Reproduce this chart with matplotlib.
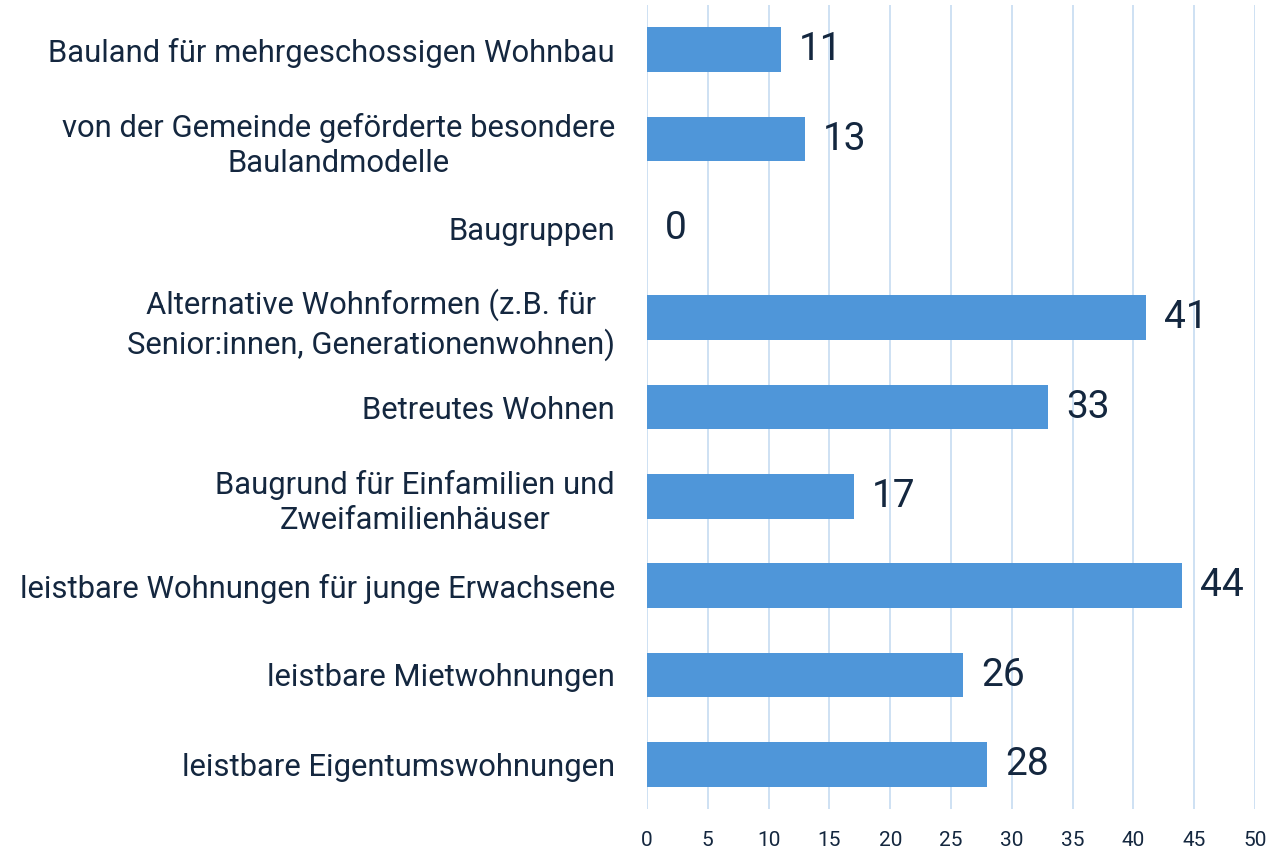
import matplotlib
matplotlib.use("Agg")
import matplotlib.pyplot as plt

categories = [
    "Bauland für mehrgeschossigen Wohnbau",
    "von der Gemeinde geförderte besondere\nBaulandmodelle",
    "Baugruppen",
    "Alternative Wohnformen (z.B. für\nSenior:innen, Generationenwohnen)",
    "Betreutes Wohnen",
    "Baugrund für Einfamilien und\nZweifamilienhäuser",
    "leistbare Wohnungen für junge Erwachsene",
    "leistbare Mietwohnungen",
    "leistbare Eigentumswohnungen",
]
values = [11, 13, 0, 41, 33, 17, 44, 26, 28]
xticks = [0, 5, 10, 15, 20, 25, 30, 35, 40, 45, 50]

text_color = "#14273F"
bar_color = "#4F96D9"
grid_color = "#C6DCF1"

plt.rcParams['font.family'] = ['Roboto', 'DejaVu Sans']

fig = plt.figure(figsize=(12.86, 8.51), dpi=100)
ax = fig.add_axes([647/1286, 42/851, 608/1286, 804/851])

ypos = list(range(len(categories)))
ax.barh(ypos, values, height=0.5, color=bar_color, zorder=2)
ax.set_ylim(len(categories) - 0.5, -0.5)
ax.set_xlim(0, 50)
ax.set_xticks(xticks)
ax.set_xticklabels([str(t) for t in xticks], fontsize=15, color=text_color)
ax.set_yticks(ypos)
ax.set_yticklabels(categories, fontsize=22.3, color=text_color,
                   linespacing=1.27)
for lbl in ax.get_yticklabels():
    lbl.set_horizontalalignment('right')
    lbl.set_multialignment('center')
ax.tick_params(axis='y', length=0, pad=23)
ax.tick_params(axis='x', length=0, pad=16)

ax.grid(axis='x', color=grid_color, linewidth=1.2, zorder=0)
for s in ax.spines.values():
    s.set_visible(False)

for y, v in zip(ypos, values):
    ax.annotate(str(v), xy=(v, y), xytext=(13, 0), textcoords='offset points',
                ha='left', va='center', fontsize=28, color=text_color)

fig.savefig("out.png", dpi=100)
